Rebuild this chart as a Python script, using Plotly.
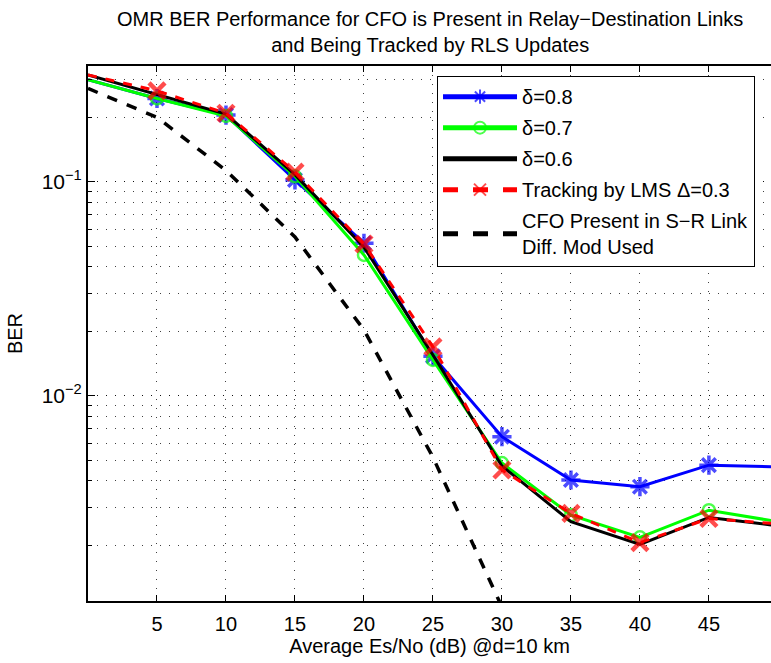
import plotly.graph_objects as go

snr = [0, 5, 10, 15, 20, 25, 30, 35, 40, 45, 50]
ber_d08 = [0.300, 0.245, 0.205, 0.102, 0.0516, 0.0153, 0.00644, 0.00404, 0.00376, 0.00474, 0.00465]
ber_d07 = [0.300, 0.245, 0.203, 0.106, 0.0455, 0.0147, 0.00485, 0.00277, 0.00218, 0.00292, 0.00258]
ber_d06 = [0.316, 0.255, 0.207, 0.108, 0.0495, 0.0155, 0.00470, 0.00258, 0.00202, 0.00270, 0.00247]
ber_lms = [0.316, 0.266, 0.209, 0.111, 0.0512, 0.01694, 0.00450, 0.00282, 0.00206, 0.00267, 0.00252]
snr_sr = [0, 5, 10, 15, 20, 25, 30]
ber_sr = [0.273, 0.200, 0.113, 0.0552, 0.0203, 0.00516, 0.00103]

x_ticks = [5, 10, 15, 20, 25, 30, 35, 40, 45]
y_ticks = [0.1, 0.01]
y_ticktext = ["10<sup>−1</sup>", "10<sup>−2</sup>"]

title_text = ("OMR BER Performance for CFO is Present in Relay−Destination Links<br>"
              "and Being Tracked by RLS Updates")
x_title = "Average Es/No (dB) @d=10 km"
y_title = "BER"

FONT = "Liberation Sans, Arial, Helvetica, sans-serif"

def msize(s):
    return [0] + [s] * (len(snr) - 2) + [0]

fig = go.Figure()
fig.add_trace(go.Scatter(x=snr, y=ber_d08, name="δ=0.8", mode="lines+markers", legendgroup="a",
                         line=dict(color="#0000FF", width=3),
                         marker=dict(symbol="asterisk-open", size=msize(16), color="#0000FF",
                                     line=dict(color="#0000FF", width=3.5))))
fig.add_trace(go.Scatter(x=snr, y=ber_d07, name="δ=0.7", mode="lines+markers", legendgroup="b",
                         line=dict(color="#00FF00", width=3),
                         marker=dict(symbol="circle-open", size=msize(12), color="#00FF00",
                                     line=dict(color="#00FF00", width=2.5))))
fig.add_trace(go.Scatter(x=snr, y=ber_d06, name="δ=0.6", mode="lines", legendgroup="c",
                         line=dict(color="black", width=3)))
fig.add_trace(go.Scatter(x=snr, y=ber_lms, name="Tracking by LMS Δ=0.3", mode="lines+markers",
                         legendgroup="d",
                         line=dict(color="#FF0000", width=3, dash="dash"),
                         marker=dict(symbol="x-thin-open", size=msize(16), color="#FF0000",
                                     line=dict(color="#FF0000", width=4.5))))
fig.add_trace(go.Scatter(x=snr_sr, y=ber_sr, name="CFO Present in S−R Link<br>Diff. Mod Used",
                         mode="lines", legendgroup="e",
                         line=dict(color="black", width=3.5, dash="dash")))

GRIDC = "rgba(0,0,0,0.75)"
grid = dict(showgrid=True, gridcolor=GRIDC, griddash="1px,8px", gridwidth=1)

fig.update_layout(
    width=771, height=663,
    margin=dict(l=88, r=0, t=66, b=62),
    paper_bgcolor="white", plot_bgcolor="white",
    font=dict(family=FONT, size=20, color="black"),
    showlegend=True,
    legend=dict(x=0.511, y=0.981, xanchor="left", yanchor="top",
                bgcolor="white", bordercolor="black", borderwidth=1,
                font=dict(family=FONT, size=20, color="black"),
                tracegroupgap=2, itemwidth=74, itemsizing="constant"),
    annotations=[dict(text=title_text, xref="paper", yref="paper", x=0.5, y=1.0636,
                      xanchor="center", yanchor="middle", showarrow=False,
                      font=dict(family=FONT, size=20, color="black"))],
    xaxis=dict(range=[0, 49.5], tickvals=x_ticks, ticks="inside", ticklen=6,
               tickcolor="black", showline=True, linecolor="black", linewidth=2,
               mirror="ticks", zeroline=False, ticklabelstandoff=4,
               title=dict(text=x_title, standoff=2, font=dict(family=FONT, size=20)),
               tickfont=dict(family=FONT, size=20), **grid),
    yaxis=dict(type="log", range=[-2.959, -0.459], tickvals=y_ticks, ticktext=y_ticktext,
               ticks="inside", ticklen=7, tickcolor="black",
               showline=True, linecolor="black", linewidth=2, zeroline=False,
               title=dict(text=y_title, standoff=14, font=dict(family=FONT, size=20)),
               tickfont=dict(family=FONT, size=21),
               minor=dict(dtick="D1", ticks="inside", ticklen=4, tickcolor="black",
                          showgrid=True, gridcolor=GRIDC, griddash="1px,8px", gridwidth=1),
               **grid),
)

fig.write_html("out.html")
